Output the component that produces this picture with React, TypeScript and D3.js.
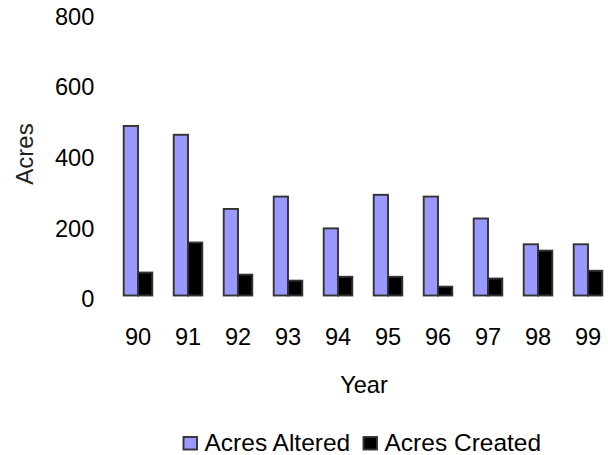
import React from "react";
import * as d3 from "d3";

const years = ["90", "91", "92", "93", "94", "95", "96", "97", "98", "99"];
const acresAltered = [480, 455, 245, 280, 190, 285, 280, 218, 145, 145];
const acresCreated = [65, 150, 59, 42, 53, 53, 25, 48, 127, 70];
const yTicks = [0, 200, 400, 600, 800];
const seriesNames = ["Acres Altered", "Acres Created"];
const seriesColors = ["#9999FF", "#000000"];

const W = 608;
const H = 455;
const FONT = "'Liberation Sans', Arial, Helvetica, sans-serif";
const FS = 23.6;
const LFS = 24.5;

export default function App() {
  const x = d3.scaleBand<string>().domain(years).range([113, 613]).paddingInner(0).paddingOuter(0);
  const step = x.step();
  const barW = step / 3.5;
  const gap = (step - 2 * barW) / 2;
  const y = d3.scaleLinear().domain([0, 800]).range([295.5, 12.9]);
  const series = [acresAltered, acresCreated];

  return (
    <svg width={W} height={H} style={{ position: "absolute", left: 0, top: 0, background: "#fff" }}>
      {series.map((vals, si) =>
        vals.map((v, i) => (
          <rect
            key={`${si}-${i}`}
            x={(x(years[i]) as number) + gap + si * barW}
            y={y(v)}
            width={barW}
            height={y(0) - y(v)}
            fill={seriesColors[si]}
            stroke="#333333"
            strokeWidth={1.9}
          />
        ))
      )}
      {yTicks.map((t) => (
        <text key={t} x={94.3} y={y(t) + 3.3 + 0.358 * FS} textAnchor="end" fontFamily={FONT} fontSize={FS} fill="#000">
          {t}
        </text>
      ))}
      {years.map((yr) => (
        <text
          key={yr}
          x={(x(yr) as number) + gap + barW}
          y={345}
          textAnchor="middle"
          fontFamily={FONT}
          fontSize={FS}
          fill="#000"
        >
          {yr}
        </text>
      ))}
      <text x={364} y={393} textAnchor="middle" fontFamily={FONT} fontSize={FS} fill="#000">
        Year
      </text>
      <text
        transform={`translate(${24.7 + 0.358 * 24}, 154) rotate(-90)`}
        textAnchor="middle"
        fontFamily={FONT}
        fontSize={24}
        fill="#222"
      >
        Acres
      </text>
      {[183.5, 363.5].map((lx, i) => (
        <g key={i}>
          <rect x={lx} y={437} width={13.5} height={12.5} fill={seriesColors[i]} stroke="#333333" strokeWidth={1.9} />
          <text x={lx + 21} y={450.5} fontFamily={FONT} fontSize={LFS} fill="#000">
            {seriesNames[i]}
          </text>
        </g>
      ))}
    </svg>
  );
}
